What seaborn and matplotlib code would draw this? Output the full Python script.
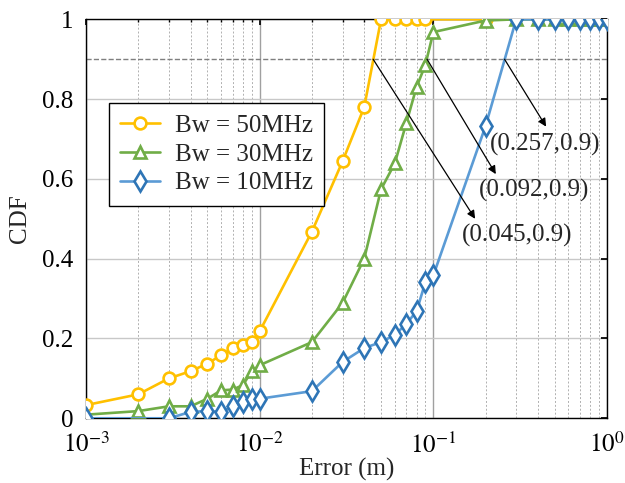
import math

import matplotlib
matplotlib.use("Agg")
import matplotlib.pyplot as plt
from matplotlib.ticker import LogLocator, FixedLocator, FuncFormatter
import pandas as pd
import seaborn as sns

err_50 = [0.001, 0.002, 0.003, 0.004, 0.005, 0.006, 0.007, 0.008, 0.009, 0.01,
          0.02, 0.03, 0.04, 0.05, 0.06, 0.07, 0.08, 0.09, 0.2]
cdf_50 = [0.033, 0.06, 0.10, 0.118, 0.137, 0.158, 0.176, 0.184, 0.191, 0.218,
          0.468, 0.644, 0.78, 1.0, 1.0, 1.0, 1.0, 1.0, 1.0]

err_30 = [0.001, 0.002, 0.003, 0.004, 0.005, 0.006, 0.007, 0.008, 0.009, 0.01,
          0.02, 0.03, 0.04, 0.05, 0.06, 0.07, 0.08, 0.09, 0.1, 0.2,
          0.3, 0.4, 0.5, 0.6, 0.7, 0.8, 0.9, 1.0]
cdf_30 = [0.009, 0.018, 0.03, 0.03, 0.049, 0.07, 0.072, 0.083, 0.118, 0.133,
          0.191, 0.289, 0.40, 0.574, 0.639, 0.741, 0.83, 0.886, 0.968, 0.997,
          1.0, 1.0, 1.0, 1.0, 1.0, 1.0, 1.0, 1.0]

err_10 = [0.001, 0.003, 0.004, 0.005, 0.006, 0.007, 0.008, 0.009, 0.01,
          0.02, 0.03, 0.04, 0.05, 0.06, 0.07, 0.08, 0.09, 0.1, 0.2,
          0.3, 0.4, 0.5, 0.6, 0.7, 0.8, 0.9, 1.0]
cdf_10 = [0.0, 0.0, 0.016, 0.018, 0.016, 0.03, 0.041, 0.049, 0.049,
          0.068, 0.141, 0.176, 0.191, 0.209, 0.237, 0.268, 0.341, 0.358, 0.733,
          1.0, 1.0, 1.0, 1.0, 1.0, 1.0, 1.0, 1.0]

series_labels = ["Bw = 50MHz", "Bw = 30MHz", "Bw = 10MHz"]

# 90th percentile points and where their labels sit
p90_x = [0.045, 0.092, 0.257]
p90_labels = ["(0.045,0.9)", "(0.092,0.9)", "(0.257,0.9)"]
p90_head_x = [0.174, 0.229, 0.446]
p90_head_y = [0.50, 0.612, 0.731]
p90_text_x = [0.146, 0.182, 0.2125]
p90_text_y = [0.458, 0.571, 0.6875]

FS = 18


def main() -> None:
    sns.set_theme(style="white")
    plt.rcParams["font.family"] = ["Liberation Serif", "DejaVu Serif"]
    plt.rcParams["mathtext.fontset"] = "stix"

    fig = plt.figure(figsize=(6.25, 4.83), dpi=100)
    ax = fig.add_axes([0.1376, 0.134, 0.8336, 0.826])

    styles = [
        dict(color="#FFC000", marker="o", mec="#FFC000", ms=8.5),
        dict(color="#70AD47", marker="^", mec="#70AD47", ms=8.5),
        dict(color="#5B9BD5", marker="d", mec="#2E75B6", ms=10),
    ]
    data = [(err_50, cdf_50), (err_30, cdf_30), (err_10, cdf_10)]
    for (xs, ys), label, st in zip(data, series_labels, styles):
        df = pd.DataFrame({"err": xs, "cdf": ys})
        sns.lineplot(
            data=df, x="err", y="cdf", ax=ax, label=label,
            color=st["color"], marker=st["marker"], mec=st["mec"],
            mfc="white", mew=1.9, ms=st["ms"], lw=1.9, zorder=3,
        )

    ax.set_xscale("log")
    ax.set_xlim(1e-3, 1)
    ax.set_ylim(0, 1)

    ax.axhline(0.9, color="#7f7f7f", ls="--", lw=1.0, zorder=2)

    for x0, lab, hx, hy, tx, ty in zip(p90_x, p90_labels, p90_head_x, p90_head_y, p90_text_x, p90_text_y):
        ax.annotate(
            "", xy=(hx, hy), xytext=(x0, 0.9),
            arrowprops=dict(arrowstyle="-|>", lw=0.9, color="black", mutation_scale=12, shrinkA=0, shrinkB=0),
            zorder=4,
        )
        ax.text(tx, ty, lab, fontsize=FS, ha="left", va="center", zorder=5)

    ax.xaxis.set_major_locator(FixedLocator([1e-3, 1e-2, 1e-1, 1]))
    ax.xaxis.set_major_formatter(FuncFormatter(lambda v, p: r"$10^{%d}$" % round(math.log10(v))))
    ax.xaxis.set_minor_locator(LogLocator(base=10, subs=range(2, 10)))
    ax.yaxis.set_major_locator(FixedLocator([0, 0.2, 0.4, 0.6, 0.8, 1.0]))
    ax.yaxis.set_major_formatter(FuncFormatter(lambda v, p: f"{v:g}"))

    ax.grid(which="major", axis="y", color="#c8c8c8", lw=1.0, ls="-")
    ax.grid(which="major", axis="x", color="#a0a0a0", lw=1.0, ls="-")
    ax.grid(which="minor", axis="x", color="#b0b0b0", lw=0.7, ls=(0, (2, 2)))
    ax.set_axisbelow(True)

    ax.tick_params(axis="both", which="both", direction="in", top=True, right=True, labelsize=FS, colors="black")
    ax.tick_params(axis="both", which="major", length=4)
    ax.tick_params(axis="x", which="minor", length=2)
    ax.tick_params(axis="x", pad=10)
    ax.tick_params(axis="y", pad=9)
    for side in ax.spines.values():
        side.set_color("black")
        side.set_linewidth(1.0)

    ax.set_xlabel("Error (m)", fontsize=FS, labelpad=0)
    ax.set_ylabel("CDF", fontsize=FS, labelpad=8)

    leg = ax.legend(
        loc="upper left", bbox_to_anchor=(0.044, 0.79), fontsize=FS,
        frameon=True, fancybox=False, edgecolor="black", framealpha=1,
        handlelength=1.6, borderpad=0.45, labelspacing=0.25, handletextpad=0.6,
        borderaxespad=0,
    )
    leg.get_frame().set_linewidth(1.0)

    fig.savefig("out.png", dpi=100)
    plt.close(fig)


if __name__ == "__main__":
    main()
